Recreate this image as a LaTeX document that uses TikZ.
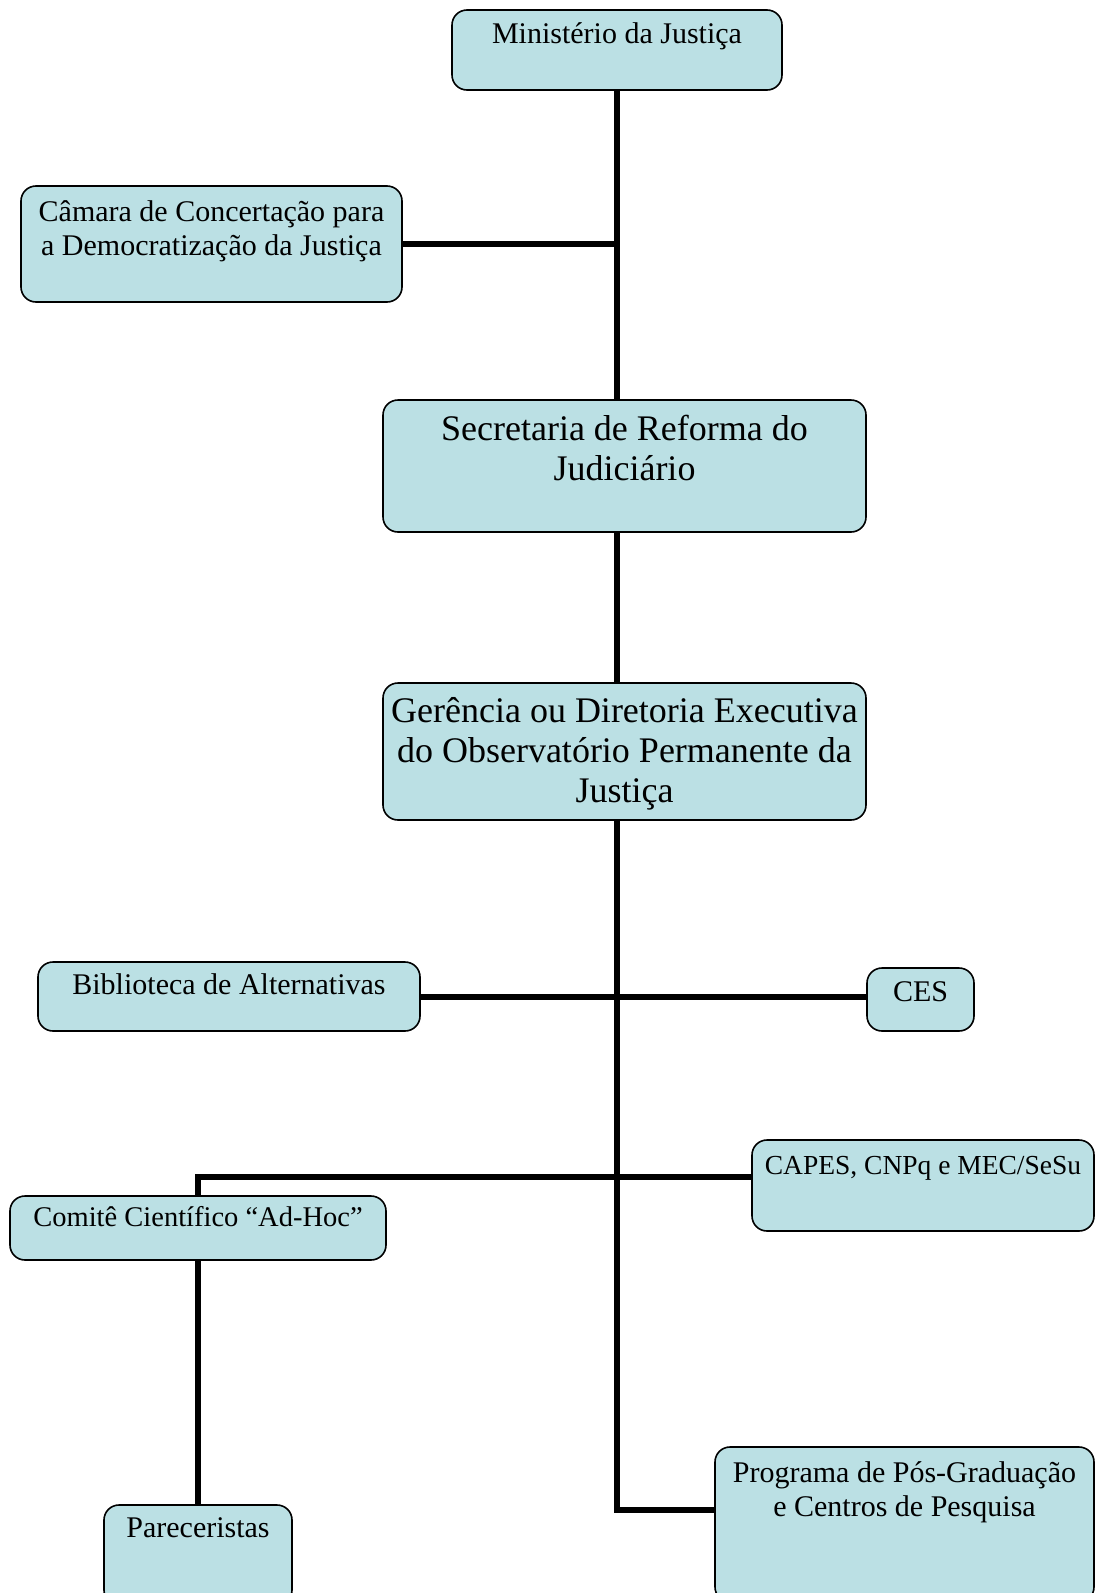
\documentclass[tikz,border=0pt]{standalone}
\usepackage{fontspec}
\setmainfont{Liberation Serif}
\definecolor{boxfill}{RGB}{187,224,228}
\newcommand\bxt[4]{\parbox[c][#2pt][t]{#1pt}{\centering\rule{0pt}{#3pt}#4}}
\tikzset{
  orgbox/.style={draw=black, line width=1.6pt, fill=boxfill, rounded corners=15pt, inner sep=0pt},
  small/.style={font=\fontsize{30}{34}\selectfont},
  big/.style={font=\fontsize{36}{40}\selectfont},
  conn/.style={line width=6pt, draw=black}
}
\begin{document}
\begin{tikzpicture}[x=1pt,y=-1pt]
\useasboundingbox (0,0) rectangle (1116,1593);
\clip (0,0) rectangle (1116,1593);
% boxes
\node[orgbox, small] (min) at (617,50) {\bxt{330}{80}{33}{Ministério da Justiça}};
\node[orgbox, small] (cam) at (211.5,244) {\bxt{381}{116}{35}{Câmara de Concertação para\\a Democratização da Justiça}};
\node[orgbox, big] (sec) at (624.5,466) {\bxt{483}{132}{40}{Secretaria de Reforma do\\Judiciário}};
\node[orgbox, big] (ger) at (624.5,751.5) {\bxt{483}{137}{39}{Gerência ou Diretoria Executiva\\do Observatório Permanente da\\Justiça}};
\node[orgbox, small] (bib) at (229,996.5) {\bxt{382}{69}{32}{Biblioteca de Alternativas}};
\node[orgbox, small] (ces) at (920.5,999.5) {\bxt{107}{63}{33}{CES}};
\node[orgbox, small] (cap) at (923,1185.5) {\bxt{342}{91}{34}{\fontsize{27.5}{34}\selectfont CAPES, CNPq e MEC/SeSu}};
\node[orgbox, small] (com) at (198,1228) {\bxt{376}{64}{30}{\fontsize{28.5}{34}\selectfont Comitê Científico “Ad-Hoc”}};
\node[orgbox, small] (par) at (198,1555) {\bxt{188}{100}{32}{Pareceristas}};
\node[orgbox, small] (pro) at (904.5,1524.5) {\bxt{379}{155}{35}{Programa de Pós-Graduação\\e Centros de Pesquisa}};
% junction coordinates
\coordinate (hc) at (617,1177);
\coordinate (pj) at (617,1510);
% connectors
\draw[conn] (min.south) -- (min.south |- sec.north);
\draw[conn] (min.south |- sec.south) -- (min.south |- ger.north);
\draw[conn] (min.south |- ger.south) -- (pj) -- (pj -| pro.west);
\draw[conn] (cam.east) -- (cam.east -| min.south);
\draw[conn] (bib.east) -- (bib.east -| ces.west);
\draw[conn] (hc -| cap.west) -- (hc -| com.north) -- (com.north);
\draw[conn] (com.south) -- (par.north);
\end{tikzpicture}
\end{document}
